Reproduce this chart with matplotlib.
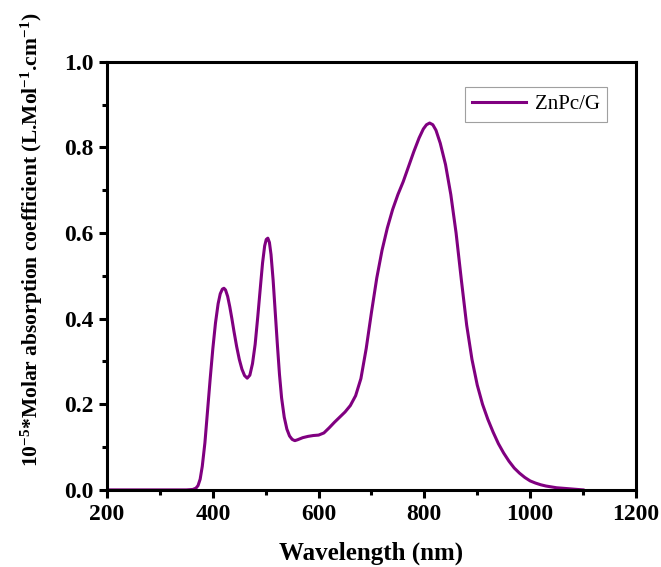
import matplotlib
matplotlib.use("Agg")
import matplotlib.pyplot as plt
from matplotlib.ticker import MultipleLocator

plt.rcParams["font.family"] = ["Liberation Serif", "DejaVu Serif"]
plt.rcParams["mathtext.fontset"] = "custom"
plt.rcParams["mathtext.rm"] = "Liberation Serif:bold"
plt.rcParams["mathtext.bf"] = "Liberation Serif:bold"
plt.rcParams["mathtext.it"] = "Liberation Serif:bold:italic"

# values
wavelength = [
    200, 250, 300, 350, 362, 368, 372, 376, 380, 385, 390, 395, 400, 405, 410,
    414, 418, 421, 424, 428, 432, 436, 440, 445, 450, 455, 460, 465, 470, 475,
    480, 485, 490, 494, 498, 501, 504, 507, 510, 514, 518, 522, 526, 530, 535,
    540, 545, 550, 555, 560, 570, 580, 590, 600, 610, 620, 630, 640, 650, 660,
    670, 680, 690, 700, 710, 720, 730, 740, 750, 760, 770, 780, 790, 798, 804,
    810, 816, 822, 830, 840, 850, 860, 870, 880, 890, 900, 910, 920, 930, 940,
    950, 960, 970, 980, 990, 1000, 1010, 1020, 1030, 1040, 1050, 1060, 1070,
    1080, 1090, 1100,
]
absorption = [
    0.0, 0.0, 0.0, 0.0, 0.001, 0.004, 0.01, 0.025, 0.055, 0.11, 0.185, 0.26,
    0.33, 0.39, 0.435, 0.458, 0.469, 0.471, 0.467, 0.452, 0.428, 0.40, 0.37,
    0.335, 0.305, 0.282, 0.267, 0.261, 0.268, 0.295, 0.34, 0.405, 0.475, 0.53,
    0.57, 0.585, 0.588, 0.578, 0.55, 0.49, 0.415, 0.34, 0.27, 0.215, 0.17,
    0.142, 0.126, 0.118, 0.115, 0.117, 0.122, 0.125, 0.127, 0.128, 0.133,
    0.145, 0.158, 0.17, 0.182, 0.197, 0.22, 0.26, 0.33, 0.415, 0.495, 0.56,
    0.612, 0.655, 0.69, 0.72, 0.755, 0.79, 0.822, 0.843, 0.853, 0.857, 0.853,
    0.84, 0.81, 0.76, 0.69, 0.6, 0.49, 0.385, 0.305, 0.245, 0.2, 0.165, 0.135,
    0.108, 0.086, 0.067, 0.051, 0.039, 0.029, 0.021, 0.016, 0.012, 0.009,
    0.007, 0.005, 0.004, 0.003, 0.002, 0.001, 0.0,
]

fig = plt.figure(figsize=(6.61, 5.67), dpi=100)
ax = fig.add_axes([0.162, 0.136, 0.8, 0.755])

ax.plot(wavelength, absorption, color="#800080", linewidth=2.2, label="ZnPc/G")

ax.set_xlim(200, 1200)
ax.set_ylim(0, 1.0)
ax.xaxis.set_major_locator(MultipleLocator(200))
ax.xaxis.set_minor_locator(MultipleLocator(100))
ax.yaxis.set_major_locator(MultipleLocator(0.2))
ax.yaxis.set_minor_locator(MultipleLocator(0.1))
ax.yaxis.set_major_formatter(plt.FuncFormatter(lambda v, p: f"{v:.1f}"))

for s in ax.spines.values():
    s.set_linewidth(2.2)
ax.tick_params(which="major", direction="out", length=6, width=2.2,
               labelsize=17, pad=4)
ax.tick_params(which="minor", direction="out", length=3.5, width=2.2)
for lab in ax.get_xticklabels() + ax.get_yticklabels():
    lab.set_fontweight("bold")

ax.set_xlabel("Wavelength (nm)", fontsize=18, fontweight="bold", labelpad=12)
ax.set_ylabel(r"$10^{-5}$*Molar absorption coefficient (L.Mol$^{-1}$.cm$^{-1}$)",
              fontsize=15.5, fontweight="bold")
ax.yaxis.set_label_coords(-0.118, 0.584)

leg = ax.legend(loc="upper right", bbox_to_anchor=(0.945, 0.94), fontsize=15,
                frameon=True, fancybox=False, handlelength=2.6,
                borderaxespad=0, borderpad=0.35, handletextpad=0.4)
leg.get_frame().set_edgecolor("#888888")
leg.get_frame().set_linewidth(0.8)

fig.savefig("out.png", dpi=100)
